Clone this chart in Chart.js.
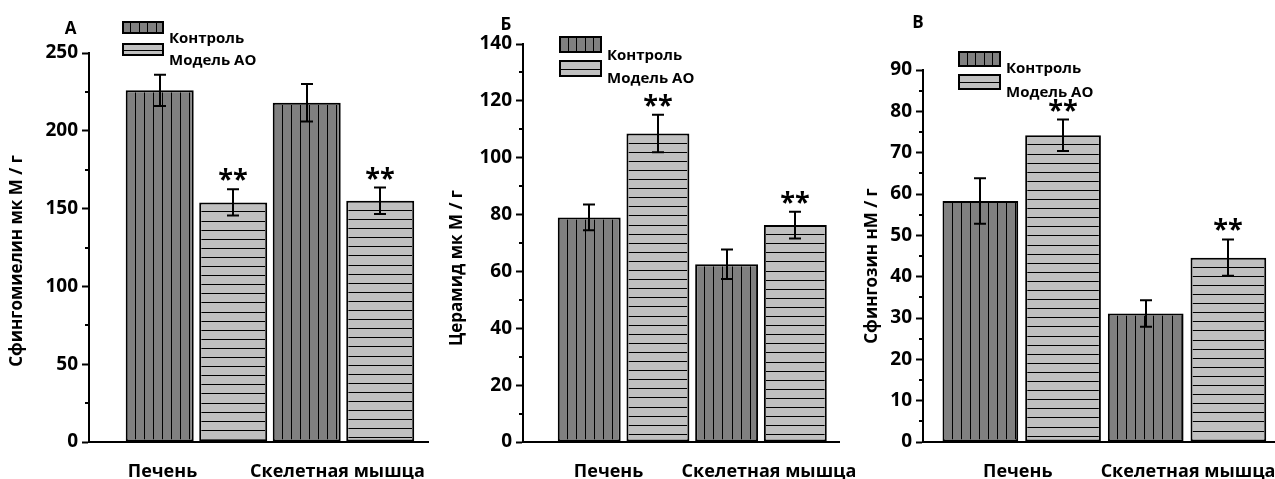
<!DOCTYPE html>
<html>
<head>
<meta charset="utf-8">
<script src="https://cdn.jsdelivr.net/npm/chart.js@4/dist/chart.umd.min.js"></script>
<style>
  html, body { margin: 0; padding: 0; background: #fff; }
  #wrap { position: relative; width: 1275px; height: 479px; overflow: hidden; }
  .panel { position: absolute; top: 0; }
</style>
</head>
<body>
<div id="wrap">
  <canvas id="panelA" class="panel" width="430" height="479" style="left:0px"></canvas>
  <canvas id="panelB" class="panel" width="430" height="479" style="left:430px"></canvas>
  <canvas id="panelV" class="panel" width="415" height="479" style="left:860px"></canvas>
</div>
<script>
// ---- data ----
const categories = ['Печень', 'Скелетная мышца'];
const seriesNames = ['Контроль', 'Модель АО'];
const modelMarks = ['**', '**'];

// Сфингомиелин, мкМ/г
const sphingomyelinControl = [226, 218];
const sphingomyelinControlErr = [10, 12];
const sphingomyelinModel = [154, 155];
const sphingomyelinModelErr = [8.5, 8.5];
const sphingomyelinTicks = [0, 50, 100, 150, 200, 250];

// Церамид, мкМ/г
const ceramideControl = [79, 62.5];
const ceramideControlErr = [4.5, 5.2];
const ceramideModel = [108.5, 76.3];
const ceramideModelErr = [6.6, 4.7];
const ceramideTicks = [0, 20, 40, 60, 80, 100, 120, 140];

// Сфингозин, нМ/г
const sphingosineControl = [58.3, 31.1];
const sphingosineControlErr = [5.5, 3.2];
const sphingosineModel = [74.2, 44.6];
const sphingosineModelErr = [3.8, 4.4];
const sphingosineTicks = [0, 10, 20, 30, 40, 50, 60, 70, 80, 90];

// ---- styling ----
const FONT = '"Open Sans", "Noto Sans", sans-serif';
const CONTROL_FILL = '#808080';
const MODEL_FILL = '#c0c0c0';
const STRIPE_GAP = 9.1;
const MAJOR_TICK = 7;
const MINOR_TICK = 4;

function strokeStripes(ctx, left, top, w, h, dir, gap, x0, y0) {
  ctx.beginPath();
  if (dir === 'v') {
    for (let x = x0 + gap; x < left + w; x += gap) {
      const xx = Math.round(x) + 0.5;
      ctx.moveTo(xx, top); ctx.lineTo(xx, top + h);
    }
  } else {
    for (let y = y0 + gap; y < top + h; y += gap) {
      const yy = Math.round(y) + 0.5;
      ctx.moveTo(left, yy); ctx.lineTo(left + w, yy);
    }
  }
  ctx.stroke();
}

const decorPlugin = {
  id: 'decor',
  afterDatasetsDraw(chart, args, opts) {
    const ctx = chart.ctx;
    const yScale = chart.scales.y;
    // hatch lines inside each bar
    chart.data.datasets.forEach((ds, di) => {
      const meta = chart.getDatasetMeta(di);
      meta.data.forEach((bar) => {
        const p = bar.getProps(['x', 'y', 'base', 'width'], true);
        const bw = ds.borderWidth;
        const outerL = p.x - p.width / 2;
        const outerT = Math.min(p.y, p.base);
        const left = outerL + bw, top = outerT + bw;
        const w = p.width - 2 * bw, h = Math.abs(p.base - p.y) - 2 * bw;
        ctx.save();
        ctx.beginPath(); ctx.rect(left, top, w, h); ctx.clip();
        ctx.strokeStyle = '#000'; ctx.lineWidth = 1;
        strokeStripes(ctx, left, top, w, h, ds.stripe, STRIPE_GAP, outerL, outerT);
        ctx.restore();
      });
    });
    // error bars and significance marks
    chart.data.datasets.forEach((ds, di) => {
      const meta = chart.getDatasetMeta(di);
      meta.data.forEach((bar, i) => {
        const v = ds.data[i].y, e = ds.errors[i];
        const x = Math.round(bar.x);
        const yTop = yScale.getPixelForValue(v + e);
        const yBot = yScale.getPixelForValue(v - e);
        ctx.save();
        ctx.strokeStyle = '#000'; ctx.lineWidth = 2;
        ctx.beginPath();
        ctx.moveTo(x, yTop); ctx.lineTo(x, yBot);
        ctx.moveTo(x - 6, yTop); ctx.lineTo(x + 6, yTop);
        ctx.moveTo(x - 6, yBot); ctx.lineTo(x + 6, yBot);
        ctx.stroke();
        const mark = ds.marks ? ds.marks[i] : '';
        if (mark) {
          ctx.font = 'bold 27px ' + FONT;
          ctx.fillStyle = '#000';
          ctx.textAlign = 'center';
          ctx.textBaseline = 'alphabetic';
          const m = ctx.measureText(mark);
          ctx.fillText(mark, x, yTop - 8 - m.actualBoundingBoxDescent);
        }
        ctx.restore();
      });
    });
  },
  afterDraw(chart, args, opts) {
    const ctx = chart.ctx;
    const xScale = chart.scales.x;
    const yScale = chart.scales.y;
    ctx.save();
    // short minor ticks between labelled values
    ctx.strokeStyle = '#000'; ctx.lineWidth = 2;
    ctx.beginPath();
    yScale.ticks.forEach(t => {
      if (!opts.majorTicks.includes(t.value)) {
        const y = Math.round(yScale.getPixelForValue(t.value));
        ctx.moveTo(yScale.right - MINOR_TICK, y); ctx.lineTo(yScale.right, y);
      }
    });
    ctx.stroke();
    ctx.fillStyle = '#000';
    // panel letter
    ctx.font = 'bold 17px ' + FONT;
    ctx.textAlign = 'center'; ctx.textBaseline = 'alphabetic';
    ctx.fillText(opts.letter.text, opts.letter.x, opts.letter.y);
    // category labels
    ctx.font = 'bold 18px ' + FONT;
    categories.forEach((c, i) => {
      ctx.fillText(c, xScale.getPixelForValue(i + 1) + opts.catShift[i], opts.catBaseline);
    });
    // y-axis title
    ctx.save();
    ctx.translate(opts.yTitle.x, opts.yTitle.y);
    ctx.rotate(-Math.PI / 2);
    ctx.font = 'bold 17px ' + FONT;
    ctx.textAlign = 'center'; ctx.textBaseline = 'middle';
    ctx.fillText(opts.yTitle.text, 0, 0);
    ctx.restore();
    // legend
    const L = opts.legend;
    chart.data.datasets.forEach((ds, di) => {
      const bx = L.x, by = L.boxY[di], bw = L.w, bh = L.h;
      ctx.fillStyle = ds.backgroundColor;
      ctx.fillRect(bx, by, bw, bh);
      ctx.save();
      ctx.beginPath(); ctx.rect(bx, by, bw, bh); ctx.clip();
      ctx.strokeStyle = '#000'; ctx.lineWidth = 1;
      if (ds.stripe === 'v') strokeStripes(ctx, bx, by, bw, bh, 'v', bw / 5, bx, by);
      else strokeStripes(ctx, bx, by, bw, bh, 'h', bh / 2, bx, by);
      ctx.restore();
      ctx.strokeStyle = '#000'; ctx.lineWidth = 2;
      ctx.strokeRect(bx + 1, by + 1, bw - 2, bh - 2);
      ctx.fillStyle = '#000';
      ctx.font = 'bold 15px ' + FONT;
      ctx.textAlign = 'left'; ctx.textBaseline = 'alphabetic';
      ctx.fillText(ds.label, L.textX, L.base[di]);
    });
    ctx.restore();
  }
};

function makePanel(id, p) {
  const xs = categories.map((c, i) => i + 1);
  const datasets = [
    {
      label: seriesNames[0],
      data: xs.map((x, i) => ({ x, y: p.control[i] })),
      errors: p.controlErr,
      backgroundColor: CONTROL_FILL,
      stripe: 'v'
    },
    {
      label: seriesNames[1],
      data: xs.map((x, i) => ({ x, y: p.model[i] })),
      errors: p.modelErr,
      marks: modelMarks,
      backgroundColor: MODEL_FILL,
      stripe: 'h'
    }
  ].map(d => Object.assign(d, {
    borderColor: '#000', borderWidth: 2, borderSkipped: false,
    categoryPercentage: 1.0, barPercentage: p.barPct
  }));
  const ticks = p.ticks;
  const step = (ticks[1] - ticks[0]) / 2;
  p.decor.majorTicks = ticks;
  return new Chart(document.getElementById(id), {
    type: 'bar',
    data: { datasets },
    options: {
      responsive: false,
      animation: false,
      layout: { padding: { left: 0, right: p.padRight, top: p.padTop, bottom: 0 } },
      plugins: {
        legend: { display: false },
        tooltip: { enabled: false },
        decor: p.decor
      },
      scales: {
        x: {
          type: 'linear',
          min: p.xMin, max: p.xMax,
          offset: false,
          grid: { display: false, drawTicks: false },
          border: { display: true, color: '#000', width: 2 },
          ticks: { display: false, includeBounds: false },
          afterBuildTicks(scale) { scale.ticks = xs.map(v => ({ value: v })); },
          afterFit(scale) { scale.height = 37; }
        },
        y: {
          min: ticks[0], max: ticks[ticks.length - 1],
          grid: {
            display: true, drawOnChartArea: false, drawTicks: true,
            tickLength: MAJOR_TICK, tickWidth: 2,
            tickColor: (c) => (c.tick && ticks.includes(c.tick.value)) ? '#000' : 'rgba(0,0,0,0)'
          },
          border: { display: true, color: '#000', width: 2 },
          ticks: {
            stepSize: step, autoSkip: false, padding: 4, color: '#000',
            font: { family: FONT, size: 19, weight: 'bold' },
            callback: (v) => ticks.includes(v) ? String(v) : ''
          },
          afterFit(scale) { scale.width = p.axisX; }
        }
      }
    },
    plugins: [decorPlugin]
  });
}

makePanel('panelA', {
  control: sphingomyelinControl, controlErr: sphingomyelinControlErr,
  model: sphingomyelinModel, modelErr: sphingomyelinModelErr,
  ticks: sphingomyelinTicks,
  axisX: 89, padRight: 2, padTop: 53,
  xMin: 0.269, xMax: 2.575, barPct: 0.925,
  decor: {
    letter: { text: 'А', x: 70.5, y: 34 },
    yTitle: { text: 'Сфингомиелин мк М / г', x: 17.5, y: 261 },
    catShift: [-34, -6], catBaseline: 477,
    legend: { x: 122, w: 42, h: 13, boxY: [21, 43], textX: 169, base: [43, 65] }
  }
});

makePanel('panelB', {
  control: ceramideControl, controlErr: ceramideControlErr,
  model: ceramideModel, modelErr: ceramideModelErr,
  ticks: ceramideTicks,
  axisX: 93, padRight: 21, padTop: 44,
  xMin: 0.268, xMax: 2.568, barPct: 0.916,
  decor: {
    letter: { text: 'Б', x: 76, y: 30 },
    yTitle: { text: 'Церамид мк М / г', x: 27, y: 268 },
    catShift: [-15, 8], catBaseline: 477,
    legend: { x: 129, w: 43, h: 17, boxY: [36, 60], textX: 177, base: [60, 83] }
  }
});

makePanel('panelV', {
  control: sphingosineControl, controlErr: sphingosineControlErr,
  model: sphingosineModel, modelErr: sphingosineModelErr,
  ticks: sphingosineTicks,
  axisX: 63, padRight: 0, padTop: 70,
  xMin: 0.403, xMax: 2.532, barPct: 0.916,
  decor: {
    letter: { text: 'В', x: 58, y: 28 },
    yTitle: { text: 'Сфингозин нМ / г', x: 12, y: 266 },
    catShift: [-4, 1], catBaseline: 477,
    legend: { x: 98, w: 43, h: 16, boxY: [51, 74], textX: 146, base: [73, 97] }
  }
});
</script>
</body>
</html>
